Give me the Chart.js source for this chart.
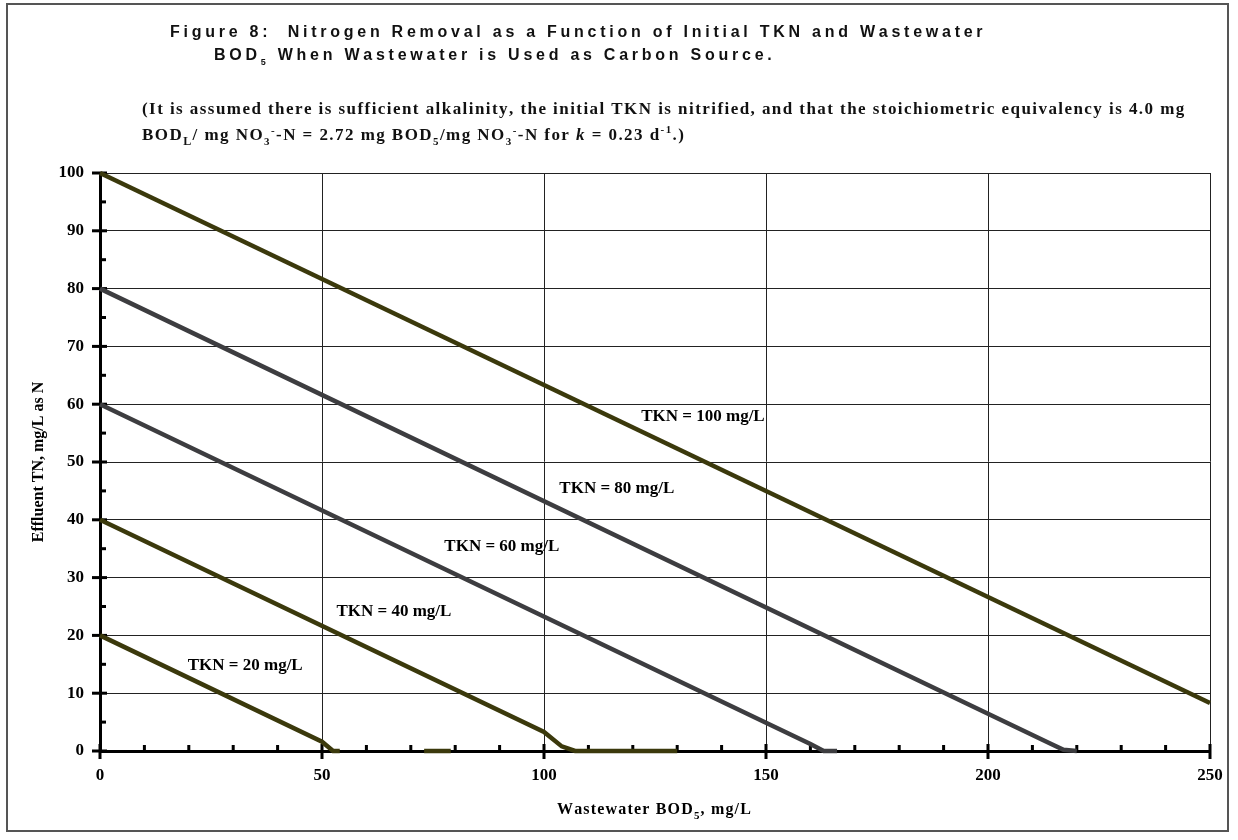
<!DOCTYPE html>
<html>
<head>
<meta charset="utf-8">
<script src="https://cdn.jsdelivr.net/npm/chart.js@4"></script>
<style>
  body { margin: 0; background: #fff; }
  #chartJSContainer { display: block; }
</style>
</head>
<body>
<canvas id="chartJSContainer" width="1238" height="840"></canvas>
<script>
// values (x = wastewater BOD5, y = effluent TN)
var bod100 = [0, 250];
var tn100  = [100, 8.3];
var bod80  = [0, 214, 217, 220];
var tn80   = [80, 1.3, 0.2, 0];
var bod60  = [0, 160, 163, 166];
var tn60   = [60, 1.2, 0, 0];
var bod40  = [0, 100, 104, 107, 130];
var tn40   = [40, 3.3, 0.8, 0, 0];
var bod40b = [73, 79];       // the loose little piece sitting on the axis
var tn40b  = [0, 0];
var bod20  = [0, 50, 52.5, 54];
var tn20   = [20, 1.6, 0, 0];

var xMajor = [0, 50, 100, 150, 200, 250];
var xMinor = [10, 20, 30, 40, 60, 70, 80, 90, 110, 120, 130, 140, 160, 170, 180, 190, 210, 220, 230, 240];
var yMajor = [0, 10, 20, 30, 40, 50, 60, 70, 80, 90, 100];
var yMinor = [5, 15, 25, 35, 45, 55, 65, 75, 85, 95];

var curveNames = ['TKN = 100 mg/L', 'TKN = 80 mg/L', 'TKN = 60 mg/L', 'TKN = 40 mg/L', 'TKN = 20 mg/L'];
var nameAtBod  = [135.8, 116.4, 90.5, 66.2, 32.7];
var nameAtTn   = [57.8, 45.4, 35.3, 24.2, 14.7];

const OLIVE = '#3b390c';
const GREY = '#3d3d40';
const sans = (s) => 'bold ' + s + 'px "Liberation Sans", Arial, sans-serif';
const serif = (s) => 'bold ' + s + 'px "Liberation Serif", "Times New Roman", serif';
const serifI = (s) => 'italic bold ' + s + 'px "Liberation Serif", "Times New Roman", serif';

const pts = (xs, ys) => xs.map((v, i) => ({x: v, y: ys[i]}));

function runsWidth(ctx, runs) {
  let w = 0, n = 0;
  runs.forEach(r => { ctx.font = r.f; w += ctx.measureText(r.t).width; n += r.t.length; });
  return {w, n};
}
function spacingFor(ctx, runs, target) {
  const m = runsWidth(ctx, runs);
  return (target - m.w) / (m.n - 1);
}
function drawRuns(ctx, x, y, runs, sp) {
  runs.forEach(r => {
    ctx.font = r.f;
    for (const ch of r.t) {
      ctx.fillText(ch, x, y + (r.dy || 0));
      x += ctx.measureText(ch).width + sp;
    }
  });
}

const decor = {
  id: 'decor',
  beforeDatasetsDraw(chart) {
    const ctx = chart.ctx, xs = chart.scales.x, ys = chart.scales.y;
    const x0 = xs.getPixelForValue(0), y0 = ys.getPixelForValue(0);
    ctx.save();
    ctx.fillStyle = '#000';
    xMajor.forEach(v => { const p = xs.getPixelForValue(v); ctx.fillRect(p - 1.5, y0 - 7, 3, 15); });
    xMinor.forEach(v => { const p = xs.getPixelForValue(v); ctx.fillRect(p - 1.5, y0 - 6, 3, 6); });
    yMajor.forEach(v => { const p = ys.getPixelForValue(v); ctx.fillRect(x0 - 8, p - 1.5, 15, 3); });
    yMinor.forEach(v => { const p = ys.getPixelForValue(v); ctx.fillRect(x0, p - 1.5, 6, 3); });
    ctx.restore();
  },
  afterDraw(chart) {
    const ctx = chart.ctx, xs = chart.scales.x, ys = chart.scales.y;
    ctx.save();
    // frame round the whole figure
    ctx.strokeStyle = '#555';
    ctx.lineWidth = 2;
    ctx.strokeRect(7, 4, 1221, 827);

    ctx.fillStyle = '#111';
    ctx.textBaseline = 'alphabetic';
    ctx.textAlign = 'left';
    // title
    const t1 = [{t: 'Figure 8:  Nitrogen Removal as a Function of Initial TKN and Wastewater', f: sans(16)}];
    const tsp = spacingFor(ctx, t1, 812);
    drawRuns(ctx, 170, 37, t1, tsp);
    drawRuns(ctx, 214, 60, [
      {t: 'BOD', f: sans(16)}, {t: '5', f: sans(9), dy: 5},
      {t: ' When Wastewater is Used as Carbon Source.', f: sans(16)}
    ], tsp);

    // note under the title
    const s1 = [{t: '(It is assumed there is sufficient alkalinity, the initial TKN is nitrified, and that the stoichiometric equivalency is 4.0 mg', f: serif(17)}];
    const ssp = spacingFor(ctx, s1, 1041);
    drawRuns(ctx, 142, 114, s1, ssp);
    drawRuns(ctx, 142, 140, [
      {t: 'BOD', f: serif(17)}, {t: 'L', f: serif(12), dy: 5},
      {t: '/ mg NO', f: serif(17)}, {t: '3', f: serif(11), dy: 5}, {t: '-', f: serif(11), dy: -6},
      {t: '-N = 2.72 mg BOD', f: serif(17)}, {t: '5', f: serif(11), dy: 5},
      {t: '/mg NO', f: serif(17)}, {t: '3', f: serif(11), dy: 5}, {t: '-', f: serif(11), dy: -6},
      {t: '-N for ', f: serif(17)}, {t: 'k', f: serifI(17)},
      {t: ' = 0.23 d', f: serif(17)}, {t: '-1', f: serif(11), dy: -7}, {t: '.)', f: serif(17)}
    ], ssp);

    // axis titles
    ctx.fillStyle = '#000';
    const xt = [{t: 'Wastewater BOD', f: serif(16)}, {t: '5', f: serif(11), dy: 5}, {t: ', mg/L', f: serif(16)}];
    drawRuns(ctx, 557, 814, xt, spacingFor(ctx, xt, 193));
    ctx.save();
    ctx.translate(39, (chart.chartArea.top + chart.chartArea.bottom) / 2);
    ctx.rotate(-Math.PI / 2);
    ctx.textAlign = 'center';
    ctx.textBaseline = 'middle';
    ctx.font = serif(16);
    ctx.fillText('Effluent TN, mg/L as N', 0, 0);
    ctx.restore();

    // curve names
    ctx.textAlign = 'center';
    ctx.textBaseline = 'middle';
    ctx.font = serif(17);
    curveNames.forEach((s, i) => {
      ctx.fillText(s, xs.getPixelForValue(nameAtBod[i]), ys.getPixelForValue(nameAtTn[i]));
    });
    ctx.restore();
  }
};

const line = (xs, ys, c) => ({
  data: pts(xs, ys), borderColor: c, borderWidth: 4.5, pointRadius: 0,
  showLine: true, fill: false, clip: false, tension: 0
});

var options = {
  type: 'scatter',
  data: {
    datasets: [
      line(bod100, tn100, OLIVE),
      line(bod80, tn80, GREY),
      line(bod60, tn60, GREY),
      line(bod40, tn40, OLIVE),
      line(bod40b, tn40b, OLIVE),
      line(bod20, tn20, OLIVE)
    ]
  },
  options: {
    responsive: false,
    animation: false,
    layout: { padding: { top: 173, right: 28, left: 0, bottom: 0 } },
    plugins: { legend: { display: false }, tooltip: { enabled: false } },
    scales: {
      x: {
        type: 'linear', min: 0, max: 250,
        afterFit: (s) => { s.height = 89; },
        ticks: { stepSize: 50, color: '#000', padding: 14, font: { family: '"Liberation Serif", "Times New Roman", serif', size: 17, weight: 'bold' } },
        grid: { color: '#222', lineWidth: 1, drawTicks: false },
        border: { display: true, color: '#000', width: 3 }
      },
      y: {
        type: 'linear', min: 0, max: 100,
        afterFit: (s) => { s.width = 100; },
        ticks: { stepSize: 10, color: '#000', padding: 16, font: { family: '"Liberation Serif", "Times New Roman", serif', size: 17, weight: 'bold' } },
        grid: { color: '#222', lineWidth: 1, drawTicks: false },
        border: { display: true, color: '#000', width: 3 }
      }
    }
  },
  plugins: [decor]
};

var ctx = document.getElementById('chartJSContainer').getContext('2d');
new Chart(ctx, options);
</script>
</body>
</html>
